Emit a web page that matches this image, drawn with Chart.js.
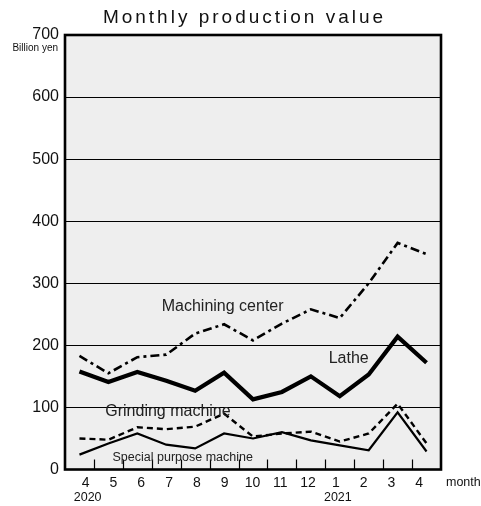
<!DOCTYPE html>
<html>
<head>
<meta charset="utf-8">
<script src="https://cdn.jsdelivr.net/npm/chart.js@4/dist/chart.umd.min.js"></script>
<style>
  html, body { margin: 0; padding: 0; background: #fff; }
  #wrap { width: 481px; height: 506px; position: relative; }
</style>
</head>
<body>
<div id="wrap"><canvas id="c" width="481" height="506"></canvas></div>
<script>
// ---- data ----
const months = ['4','5','6','7','8','9','10','11','12','1','2','3','4'];
const yearLabels = ['2020','','','','','','','','','2021','','',''];
const yTicks = [0,100,200,300,400,500,600,700];
const machiningCenter = [183,155,181,185,219,234,208,235,258,244,300,365,347];
const lathe = [158,141,157,143,127,156,113,125,150,118,153,214,172];
const grinding = [50,48,68,65,69,90,53,58,61,45,58,106,42];
const specialPurpose = [24,42,58,40,34,58,50,60,47,39,31,92,29];
const seriesNames = ['Machining center','Lathe','Grinding machine','Special purpose machine'];

const FONT = '"Liberation Sans", Arial, sans-serif';

// annotations (placed in data coordinates)
const seriesLabelPos = [
  {text: seriesNames[0], x: 4.95, y: 263, size: 16},
  {text: seriesNames[1], x: 9.31, y: 179, size: 16},
  {text: seriesNames[2], x: 3.06, y: 94, size: 16},
  {text: seriesNames[3], x: 3.57, y: 19, size: 12.5}
];

const framePlugin = {
  id: 'frame',
  beforeDraw(chart) {
    const {ctx, chartArea: a} = chart;
    ctx.save();
    ctx.fillStyle = '#eeeeee';
    ctx.fillRect(a.left, a.top, a.right - a.left, a.bottom - a.top);
    ctx.restore();
  },
  afterDatasetsDraw(chart) {
    const {ctx, chartArea: a, scales} = chart;
    const xs = scales.x;
    ctx.save();
    // inner tick marks between months
    ctx.strokeStyle = '#000';
    ctx.lineWidth = 1.2;
    for (let i = 0; i < months.length - 1; i++) {
      const px = Math.round((xs.getPixelForValue(i) + xs.getPixelForValue(i + 1)) / 2) + 0.5;
      ctx.beginPath();
      ctx.moveTo(px, a.bottom);
      ctx.lineTo(px, a.bottom - 10);
      ctx.stroke();
    }
    // series labels
    ctx.fillStyle = '#222';
    ctx.textAlign = 'center';
    ctx.textBaseline = 'middle';
    const ys = scales.y;
    seriesLabelPos.forEach(l => {
      ctx.font = l.size + 'px ' + FONT;
      ctx.fillText(l.text, xs.getPixelForValue(l.x), ys.getPixelForValue(l.y));
    });
    // frame
    ctx.strokeStyle = '#000';
    ctx.lineWidth = 2.6;
    ctx.strokeRect(a.left, a.top, a.right - a.left, a.bottom - a.top);
    ctx.restore();
  },
  afterDraw(chart) {
    const {ctx, chartArea: a, scales} = chart;
    ctx.save();
    // title with letter spacing
    ctx.fillStyle = '#111';
    ctx.font = '19px ' + FONT;
    ctx.letterSpacing = '3px';
    ctx.textAlign = 'left';
    ctx.textBaseline = 'alphabetic';
    const t = 'Monthly production value';
    const w = ctx.measureText(t).width - 3;
    ctx.fillText(t, 243 - w / 2, 22.5);
    ctx.letterSpacing = '0px';
    // unit
    ctx.font = '10px ' + FONT;
    ctx.textAlign = 'right';
    ctx.textBaseline = 'middle';
    ctx.fillText('Billion yen', a.left - 7, a.top + 13);
    // years
    const xl = scales.xl;
    ctx.font = '12.5px ' + FONT;
    ctx.textAlign = 'center';
    yearLabels.forEach((y, i) => {
      if (y) ctx.fillText(y, xl.getPixelForValue(i) + 2, a.bottom + 28);
    });
    // month unit
    ctx.textAlign = 'left';
    ctx.fillText('month', a.right + 5, a.bottom + 13);
    ctx.restore();
  }
};

const baseDs = {pointRadius: 0, pointHoverRadius: 0, tension: 0, borderColor: '#000', fill: false, borderJoinStyle: 'miter', xAxisID: 'x'};

new Chart(document.getElementById('c'), {
  type: 'line',
  data: {
    labels: months,
    datasets: [
      Object.assign({}, baseDs, {label: seriesNames[0], data: machiningCenter, borderWidth: 2.6, borderDash: [9, 4, 3, 4]}),
      Object.assign({}, baseDs, {label: seriesNames[1], data: lathe, borderWidth: 4.2}),
      Object.assign({}, baseDs, {label: seriesNames[2], data: grinding, borderWidth: 2.4, borderDash: [6, 4]}),
      Object.assign({}, baseDs, {label: seriesNames[3], data: specialPurpose, borderWidth: 2.2})
    ]
  },
  options: {
    responsive: false,
    animation: false,
    events: [],
    layout: {padding: {top: 35, right: 40, left: 0, bottom: 0}},
    plugins: {legend: {display: false}, title: {display: false}, tooltip: {enabled: false}},
    scales: {
      x: {
        type: 'category',
        offset: true,
        display: false
      },
      xl: {
        type: 'linear',
        position: 'bottom',
        min: -0.743,
        max: 12.782,
        afterBuildTicks: s => { s.ticks = months.map((m, i) => ({value: i})); },
        afterFit: s => { s.height = 36.5; },
        grid: {display: false, drawTicks: false},
        border: {display: false},
        ticks: {
          autoSkip: false,
          maxRotation: 0,
          padding: 5,
          color: '#111',
          font: {family: FONT, size: 14},
          callback: (v) => months[Math.round(v)]
        }
      },
      y: {
        min: 0,
        max: 700,
        afterBuildTicks: s => { s.ticks = yTicks.map(v => ({value: v})); },
        afterFit: s => { s.width = 65; },
        grid: {color: '#000', lineWidth: 1, drawTicks: false},
        border: {display: false},
        ticks: {padding: 6, color: '#111', font: {family: FONT, size: 16}}
      }
    }
  },
  plugins: [framePlugin]
});
</script>
</body>
</html>
